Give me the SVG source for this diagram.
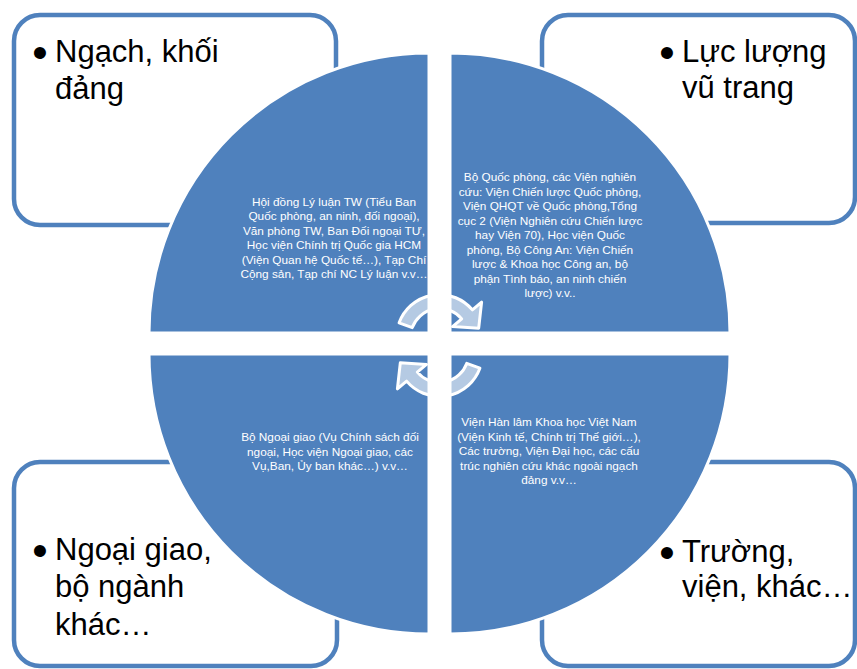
<svg xmlns="http://www.w3.org/2000/svg" width="857" height="669" viewBox="0 0 857 669">
<style>
.box{fill:#ffffff;stroke:#4f81bd;stroke-width:4.5}
.q{fill:#4f81bd;stroke:#ffffff;stroke-width:3}
.big{font-family:"Liberation Sans",Arial,sans-serif;font-size:31px;fill:#000000}
.bul{font-family:"Liberation Sans",Arial,sans-serif;font-size:44px;fill:#000000;text-anchor:middle}
.sm{font-family:"Liberation Sans",Arial,sans-serif;font-size:11.8px;fill:#ffffff;text-anchor:middle}
.arr{fill:#ffffff;fill-opacity:0.58;stroke:#ffffff;stroke-width:3;stroke-linejoin:round}
</style>
<rect width="857" height="669" fill="#ffffff"/>
<g id="box-tl">
<rect class="box" x="14" y="15" width="322" height="210" rx="26"/>
<text class="bul" x="40" y="68">•</text>
<text class="big" x="55" y="62">Ngạch, khối</text>
<text class="big" x="55" y="99">đảng</text>
</g>
<g id="box-tr">
<rect class="box" x="542" y="15" width="313" height="208" rx="26"/>
<text class="bul" x="667" y="68">•</text>
<text class="big" x="682" y="62">Lực lượng</text>
<text class="big" x="682" y="98">vũ trang</text>
</g>
<g id="box-bl">
<rect class="box" x="14" y="462" width="323" height="204" rx="26"/>
<text class="bul" x="40" y="566">•</text>
<text class="big" x="55" y="560">Ngoại giao,</text>
<text class="big" x="55" y="597">bộ ngành</text>
<text class="big" x="55" y="635">khác…</text>
</g>
<g id="box-br">
<rect class="box" x="542" y="462" width="313" height="204" rx="26"/>
<text class="bul" x="667" y="568">•</text>
<text class="big" x="682" y="562">Trường,</text>
<text class="big" x="682" y="597">viện, khác…</text>
</g>
<g id="quad-tl">
<path class="q" d="M429 333 L149 333 A280 280 0 0 1 429 53 Z"/>
<text class="sm"><tspan x="334" y="206">Hội đồng Lý luận TW (Tiểu Ban</tspan><tspan x="334" y="220.4">Quốc phòng, an ninh, đối ngoại),</tspan><tspan x="334" y="234.8">Văn phòng TW, Ban Đối ngoại TƯ,</tspan><tspan x="334" y="249.2">Học viện Chính trị Quốc gia HCM</tspan><tspan x="334" y="263.6">(Viện Quan hệ Quốc tế…), Tạp Chí</tspan><tspan x="334" y="278">Cộng sản, Tạp chí NC Lý luận v.v…</tspan></text>
</g>
<g id="quad-tr">
<path class="q" d="M450 333 L450 53 A280 280 0 0 1 730 333 Z"/>
<text class="sm"><tspan x="550" y="181">Bộ Quốc phòng, các Viện nghiên</tspan><tspan x="550" y="195.5">cứu: Viện Chiến lược Quốc phòng,</tspan><tspan x="550" y="210">Viện QHQT về Quốc phòng,Tổng</tspan><tspan x="550" y="224.5">cục 2 (Viện Nghiên cứu Chiến lược</tspan><tspan x="550" y="239">hay Viện 70), Học viện Quốc</tspan><tspan x="550" y="253.5">phòng, Bộ Công An: Viện Chiến</tspan><tspan x="550" y="268">lược &amp; Khoa học Công an, bộ</tspan><tspan x="550" y="282.5">phận Tình báo, an ninh chiến</tspan><tspan x="550" y="297">lược) v.v..</tspan></text>
</g>
<g id="quad-bl">
<path class="q" d="M429 354 L429 634 A280 280 0 0 1 149 354 Z"/>
<text class="sm"><tspan x="330" y="441">Bộ Ngoại giao (Vụ Chính sách đối</tspan><tspan x="330" y="455.5">ngoại, Học viện Ngoại giao, các</tspan><tspan x="330" y="470">Vụ,Ban, Ủy ban khác…) v.v…</tspan></text>
</g>
<g id="quad-br">
<path class="q" d="M450 354 L730 354 A280 280 0 0 1 450 634 Z"/>
<text class="sm"><tspan x="549" y="426">Viện Hàn lâm Khoa học Việt Nam</tspan><tspan x="549" y="440.5">(Viện Kinh tế, Chính trị Thế giới…),</tspan><tspan x="549" y="455">Các trường, Viện Đại học, các cấu</tspan><tspan x="549" y="469.5">trúc nghiên cứu khác ngoài ngạch</tspan><tspan x="549" y="484">đảng v.v…</tspan></text>
</g>
<g id="connectors">
<path class="arr" d="M399.1 322.8 A43 43 0 0 1 472.4 309.9 L481.6 302.1 L478.7 328.2 L452.5 326.6 L461.7 318.9 A29 29 0 0 0 412.3 327.6 Z"/>
<path class="arr" transform="rotate(180 439.5 345.5)" d="M399.1 322.8 A43 43 0 0 1 472.4 309.9 L481.6 302.1 L478.7 328.2 L452.5 326.6 L461.7 318.9 A29 29 0 0 0 412.3 327.6 Z"/>
</g>
</svg>
